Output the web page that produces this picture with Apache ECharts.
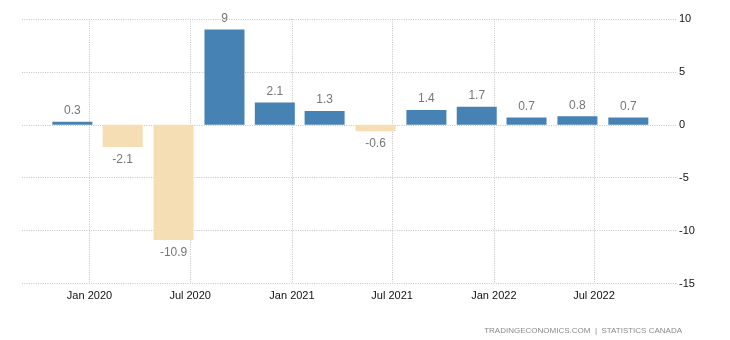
<!DOCTYPE html>
<html>
<head>
<meta charset="utf-8">
<script src="https://cdn.jsdelivr.net/npm/echarts@6/dist/echarts.min.js"></script>
<style>html,body{margin:0;padding:0;background:#fff}#c{width:730px;height:340px}</style>
</head>
<body>
<div id="c"></div>
<script>
var periods = ['2019-12-01','2020-03-01','2020-06-01','2020-09-01','2020-12-01','2021-03-01','2021-06-01','2021-09-01','2021-12-01','2022-03-01','2022-06-01','2022-09-01'];
var values = [0.3, -2.1, -10.9, 9, 2.1, 1.3, -0.6, 1.4, 1.7, 0.7, 0.8, 0.7];
var xTickDates = ['2020-01-01','2020-07-01','2021-01-01','2021-07-01','2022-01-01','2022-07-01'];
var monthNames = ['Jan','Feb','Mar','Apr','May','Jun','Jul','Aug','Sep','Oct','Nov','Dec'];
var yTicks = {min: -15, max: 10, interval: 5};

function d(s){ var p = s.split('-'); return Date.UTC(+p[0], +p[1]-1, +p[2]); }

var chart = echarts.init(document.getElementById('c'), null, {renderer:'canvas'});
var xTicks = xTickDates.map(d);
var gridLine = {show: true, lineStyle: {color: '#c4c4c4', type: [1, 1.3], width: 1}};
chart.setOption({
  animation: false,
  grid: {left: 22, right: 53, top: 19, bottom: 56.5, containLabel: false},
  xAxis: {
    type: 'value',
    min: d('2019-09-01'),
    max: d('2022-11-28'),
    axisLine: {show: false},
    axisTick: {show: false, customValues: xTicks},
    axisLabel: {
      customValues: xTicks,
      color: '#111',
      fontFamily: 'Liberation Sans, Arial, sans-serif',
      fontSize: 11,
      margin: 7,
      showMinLabel: true, showMaxLabel: true,
      formatter: function(v){ var t = new Date(v); return monthNames[t.getUTCMonth()] + ' ' + t.getUTCFullYear(); }
    },
    splitLine: gridLine
  },
  yAxis: {
    type: 'value',
    position: 'right',
    min: yTicks.min, max: yTicks.max, interval: yTicks.interval,
    axisLine: {show: false},
    axisTick: {show: false},
    axisLabel: {color: '#111', fontFamily: 'Liberation Sans, Arial, sans-serif', fontSize: 11, margin: 2},
    splitLine: gridLine
  },
  series: [{
    type: 'bar',
    barWidth: 40,
    data: periods.map(function(p, i){
      var v = values[i];
      return {
        value: [d(p), v],
        itemStyle: {color: v >= 0 ? '#4682B4' : '#F5DEB3'},
        label: {position: v >= 0 ? 'top' : 'bottom', distance: v >= 0 ? 5 : 7}
      };
    }),
    label: {
      show: true,
      color: '#777777',
      fontFamily: 'Liberation Sans, Arial, sans-serif',
      fontSize: 12,
      formatter: function(p){ return String(p.value[1]); }
    }
  }],
  title: {
    text: 'TRADINGECONOMICS.COM  |  STATISTICS CANADA',
    right: 43, top: 322,
    textStyle: {color: '#8a8a8a', fontSize: 8, fontWeight: 'normal', fontFamily: 'Liberation Sans, Arial, sans-serif'}
  }
});
</script>
</body>
</html>
